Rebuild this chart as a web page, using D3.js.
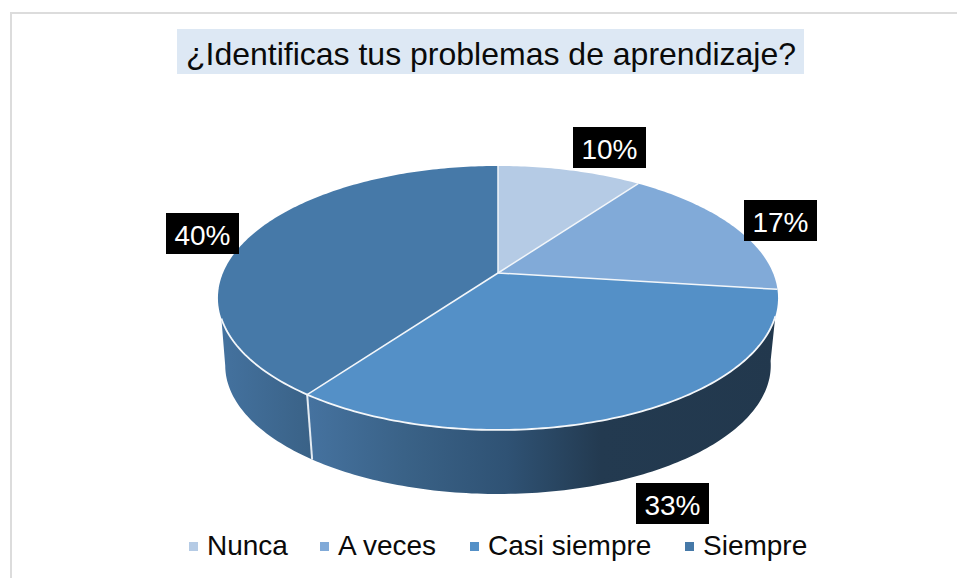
<!DOCTYPE html>
<html><head><meta charset="utf-8">
<script src="https://cdn.jsdelivr.net/npm/d3@7"></script>
<style>html,body{margin:0;padding:0;background:#fff}svg{display:block}text{font-family:"Liberation Sans",Arial,sans-serif}</style>
</head><body>
<svg id="c" width="957" height="578"></svg>
<script>
const chartTitle = "¿Identificas tus problemas de aprendizaje?";
const categories = ["Nunca", "A veces", "Casi siempre", "Siempre"];
const values = [10, 17, 33, 40];
const labels = ["10%", "17%", "33%", "40%"];
const colors = ["#b5cbe5", "#81aad8", "#5490c7", "#4679a8"];

const svg = d3.select("#c");
const defs = svg.append("defs");

// frame
svg.append("path").attr("d", "M11 578V13H957").attr("fill", "none").attr("stroke", "#dcdcdc").attr("stroke-width", 2);

// perspective projection of the tilted disc
const cx = 498, apexY = 273, R = 275, H = 127.3, K = 0.189;
const project = (a, s = 1, dy = 0) => {
  const u = Math.sin(a), v = Math.cos(a), d = 1 + K * v;
  return [cx + s * R * u / d, apexY + dy - s * H * v / d];
};
const S = 0.974, DY = 68.1;
const arcs = d3.pie().sort(null)(values);
const line = d3.line();
const samples = (a0, a1) => {
  const n = Math.max(2, Math.ceil(Math.abs(a1 - a0) * 60));
  return d3.range(n + 1).map(i => a0 + (a1 - a0) * i / n);
};

// side wall gradients
const grad = (id, x1, x2, stops) => {
  const g = defs.append("linearGradient").attr("id", id).attr("gradientUnits", "userSpaceOnUse")
    .attr("x1", x1).attr("x2", x2).attr("y1", 0).attr("y2", 0);
  stops.forEach(([o, c]) => g.append("stop").attr("offset", o).attr("stop-color", c));
};
grad("wallL", 220, 310, [[0, "#44729f"], [1, "#3a6287"]]);
grad("wallR", 310, 780, [[0, "#45729f"], [0.2, "#3a6287"], [0.42, "#2f5274"], [0.62, "#233a50"], [1, "#22384d"]]);

// top edge and bottom edge run over their own ranges so the outline follows the silhouette
const wall = (topA, topB, botA, botB, fill) => svg.append("path")
  .attr("d", line([...samples(topA, topB).map(a => project(a)),
                   ...samples(botB, botA).map(a => project(a, S, DY))]) + "Z")
  .attr("fill", fill);

const casi = arcs[2], siempre = arcs[3];
wall(casi.startAngle + 0.2, casi.endAngle, casi.startAngle + 0.03, casi.endAngle, "url(#wallR)");
wall(siempre.startAngle, siempre.startAngle + 0.6, siempre.startAngle, siempre.startAngle + 0.75, "url(#wallL)");

// divider on the wall
svg.append("path").attr("d", line([project(casi.endAngle), project(casi.endAngle, S, DY)]))
  .attr("stroke", "#e4ebf2").attr("stroke-width", 2).attr("fill", "none");

// top surface
arcs.forEach((d, i) => {
  svg.append("path")
    .attr("d", line([[cx, apexY], ...samples(d.startAngle, d.endAngle).map(a => project(a))]) + "Z")
    .attr("fill", colors[i]);
});
arcs.forEach(d => {
  svg.append("path")
    .attr("d", line([[cx, apexY], project(d.startAngle)]))
    .attr("stroke", "#f2f6fa").attr("stroke-width", 1.5).attr("fill", "none");
});
// white rim at the front
svg.append("path")
  .attr("d", line(samples(casi.startAngle + 0.2, siempre.startAngle + 0.6).map(a => project(a))))
  .attr("stroke", "#f4f7fa").attr("stroke-width", 1.8).attr("fill", "none");

// title
svg.append("rect").attr("x", 177).attr("y", 29).attr("width", 627).attr("height", 45).attr("fill", "#dde8f4");
svg.append("text").attr("x", 491).attr("y", 65).attr("text-anchor", "middle")
  .attr("font-size", 32).attr("fill", "#0a0a0a").text(chartTitle);

// data labels
const labelBoxes = [[573, 127], [744, 200], [636, 483], [166, 213]];
labels.forEach((t, i) => {
  const [bx, by] = labelBoxes[i];
  svg.append("rect").attr("x", bx).attr("y", by).attr("width", 73).attr("height", 41).attr("fill", "#000");
  svg.append("text").attr("x", bx + 36.5).attr("y", by + 32).attr("text-anchor", "middle")
    .attr("font-size", 28).attr("fill", "#fff").text(t);
});

// legend
const legendX = [189, 320, 470, 685];
categories.forEach((c, i) => {
  svg.append("rect").attr("x", legendX[i]).attr("y", 542).attr("width", 9).attr("height", 9).attr("fill", colors[i]);
  svg.append("text").attr("x", legendX[i] + 18).attr("y", 555).attr("font-size", 28).attr("fill", "#0a0a0a").text(c);
});
</script>
</body></html>
